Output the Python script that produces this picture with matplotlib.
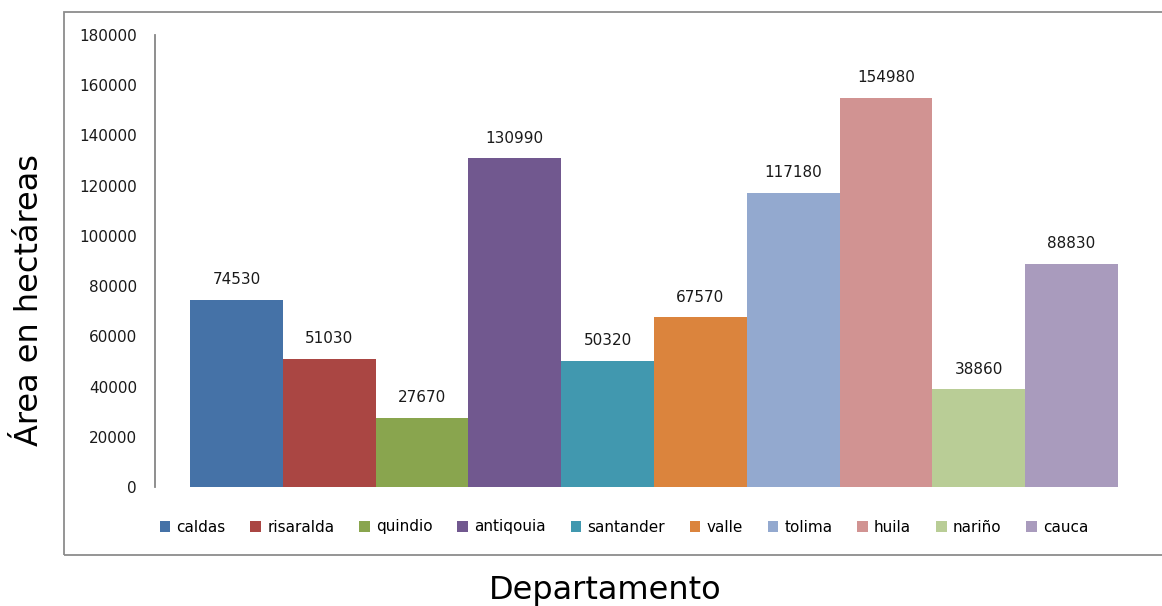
import numpy as np
import matplotlib.pyplot as plt
from matplotlib.patches import Rectangle

# datos
departamentos = ['caldas', 'risaralda', 'quindio', 'antiqouia', 'santander',
                 'valle', 'tolima', 'huila', 'nariño', 'cauca']
areas = [74530, 51030, 27670, 130990, 50320, 67570, 117180, 154980, 38860, 88830]
colores = ['#4572A7', '#AA4643', '#89A54E', '#71588F', '#4198AF',
           '#DB843D', '#93A9CF', '#D19392', '#B9CD96', '#A99BBD']
yticks = np.arange(0, 180001, 20000)

fig = plt.figure(figsize=(11.62, 6.06), dpi=100)
W, H = 1162, 606

# marco del grafico (el borde derecho queda fuera de la imagen)
fig.patches.append(Rectangle((64 / W, 1 - 555 / H), (1175 - 64) / W, (555 - 12) / H,
                             transform=fig.transFigure, fill=False,
                             edgecolor='#8c8c8c', linewidth=1.3))

ax = fig.add_axes([155 / W, 1 - 487 / H, (1153 - 155) / W, (487 - 35) / H])
x = np.arange(len(areas))
for i, (d, a, c) in enumerate(zip(departamentos, areas, colores)):
    ax.bar(x[i], a, width=1.0, color=c, label=d, edgecolor='none')
    ax.text(x[i], a + 5000, str(a), ha='center', va='bottom', fontsize=11, color='#1a1a1a')

ax.set_xlim(-0.877, 9.877)
ax.set_ylim(0, 180000)
ax.set_yticks(yticks)
ax.set_yticklabels([str(v) for v in yticks], fontsize=11, color='#1a1a1a')
ax.tick_params(axis='y', length=0, pad=13)
ax.set_xticks([])
for s in ['top', 'right', 'bottom']:
    ax.spines[s].set_visible(False)
ax.spines['left'].set_color('#868686')
ax.spines['left'].set_linewidth(1.3)

fig.legend(loc='center', bbox_to_anchor=(624 / W, 1 - 527 / H), ncol=10,
           frameon=False, fontsize=11, handlelength=0.7, handleheight=0.7,
           handletextpad=0.4, columnspacing=1.62)

fig.text(30 / W, 1 - 300 / H, 'Área en hectáreas', rotation=90, fontsize=23,
         ha='center', va='center')
fig.text(605 / W, 1 - 590 / H, 'Departamento', fontsize=23, ha='center', va='center')

fig.savefig('out.png', dpi=100)
